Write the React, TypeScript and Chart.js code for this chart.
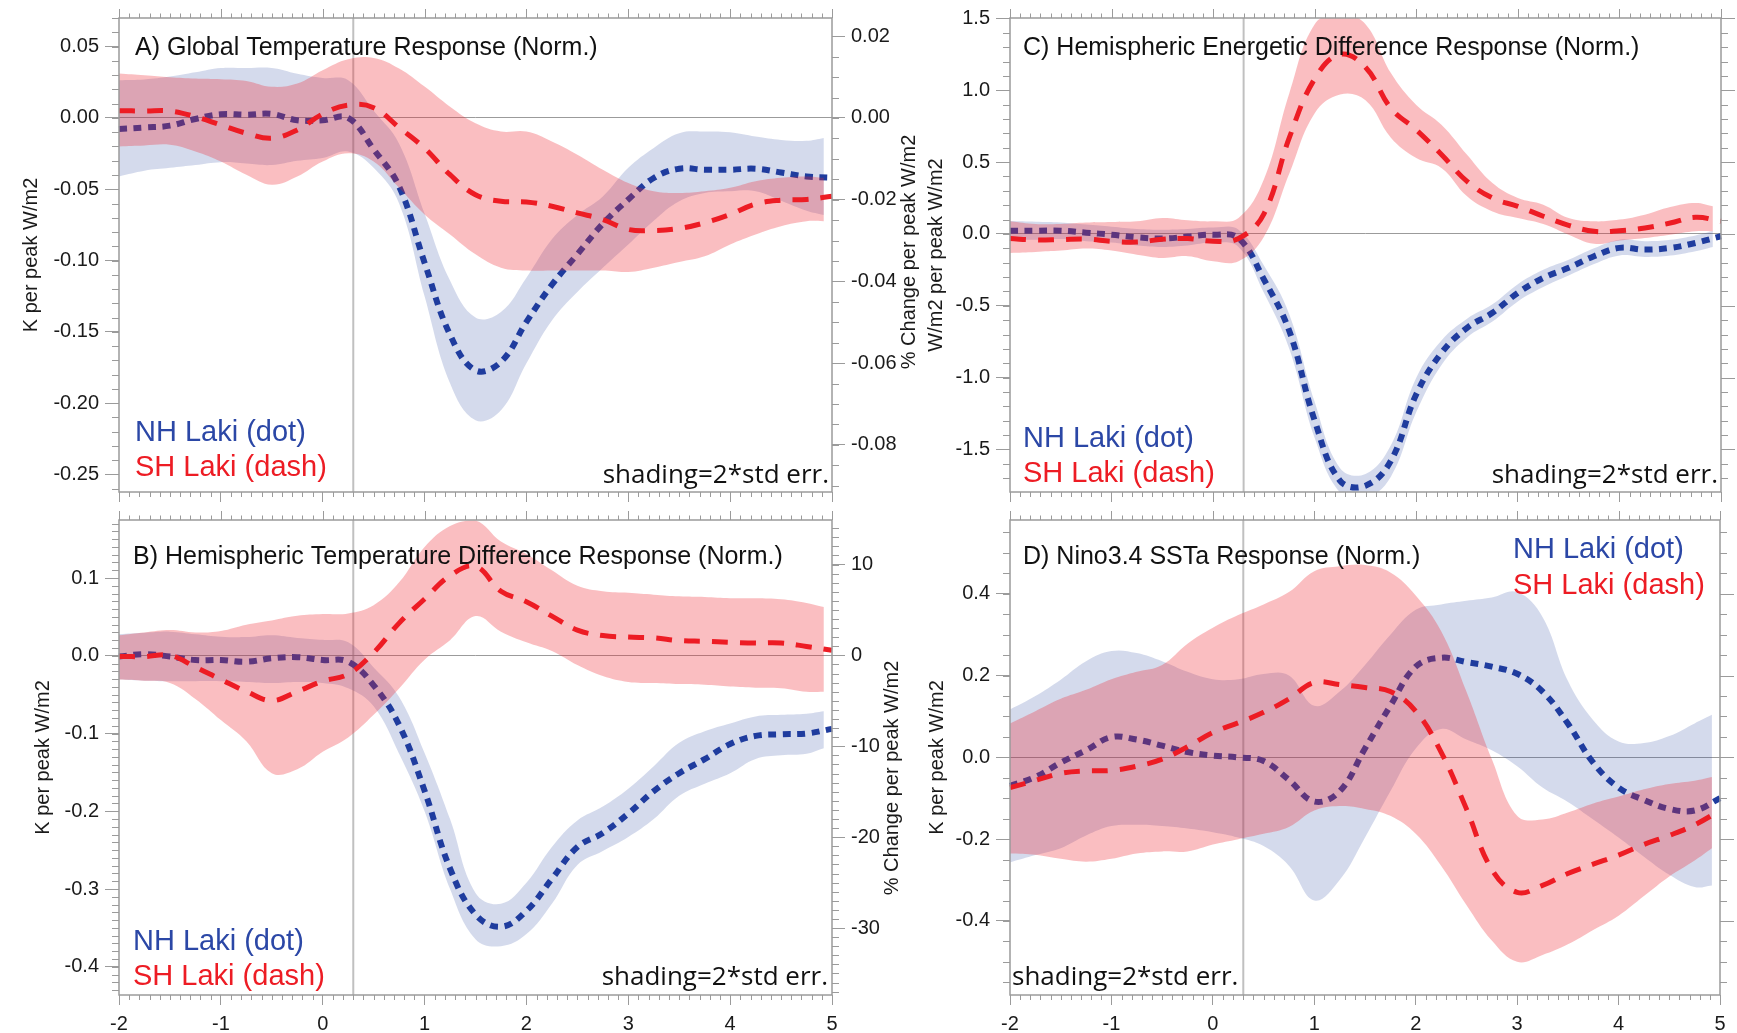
import React, { useEffect, useRef } from 'react';
import { Chart, registerables } from 'chart.js';

Chart.register(...registerables);

const PAGE_W = 1737;
const PAGE_H = 1033;

// ---- data (lag in years) ----
const X_LINE = [-2, -1.75, -1.5, -1.25, -1, -0.75, -0.5, -0.25, 0, 0.25, 0.5, 0.75, 1, 1.25, 1.5, 1.75, 2, 2.25, 2.5, 2.75, 3, 3.25, 3.5, 3.75, 4, 4.25, 4.5, 4.75, 5];
const X_BAND = [-2, -1.75, -1.5, -1.25, -1, -0.75, -0.5, -0.25, 0, 0.25, 0.5, 0.75, 1, 1.25, 1.5, 1.75, 2, 2.25, 2.5, 2.75, 3, 3.25, 3.5, 3.75, 4, 4.25, 4.5, 4.75, 4.92];
const ERUPTION_X = 0.3;

// A) Global temperature response
const A_NH = [-0.0077, -0.0067, -0.0054, -0.0007, 0.0026, 0.0023, 0.0028, -0.0016, -0.0016, 0.0, -0.022, -0.048, -0.1015, -0.152, -0.177, -0.171, -0.143, -0.117, -0.0956, -0.0742, -0.0572, -0.0421, -0.0356, -0.0363, -0.0363, -0.0356, -0.0382, -0.041, -0.042];
const A_NH_UP = [0.0265, 0.027, 0.029, 0.032, 0.035, 0.035, 0.035, 0.031, 0.028, 0.0265, 0.005, -0.018, -0.067, -0.114, -0.14, -0.136, -0.112, -0.085, -0.068, -0.055, -0.035, -0.021, -0.0107, -0.0095, -0.01, -0.013, -0.0154, -0.016, -0.014];
const A_NH_LO = [-0.041, -0.037, -0.035, -0.033, -0.031, -0.032, -0.033, -0.03, -0.028, -0.0235, -0.035, -0.06, -0.125, -0.186, -0.212, -0.205, -0.172, -0.142, -0.122, -0.105, -0.0887, -0.072, -0.0584, -0.0526, -0.0514, -0.0514, -0.058, -0.065, -0.068];
const A_SH = [0.0051, 0.0049, 0.0049, 0.0009, -0.0049, -0.0107, -0.0142, -0.0084, 0.0028, 0.009, 0.0072, -0.0067, -0.0212, -0.0398, -0.0538, -0.0584, -0.0589, -0.0619, -0.0666, -0.0712, -0.0782, -0.0789, -0.0775, -0.0735, -0.0677, -0.0603, -0.0577, -0.0572, -0.0549];
const A_SH_UP = [0.0312, 0.03, 0.0286, 0.0277, 0.0272, 0.026, 0.0219, 0.0242, 0.0335, 0.0412, 0.0421, 0.0347, 0.022, 0.0079, -0.0037, -0.0095, -0.0095, -0.0165, -0.0258, -0.0363, -0.0456, -0.0514, -0.0526, -0.0514, -0.049, -0.0444, -0.042, -0.041, -0.042];
const A_SH_LO = [-0.02, -0.0193, -0.0188, -0.0235, -0.0305, -0.0398, -0.0468, -0.041, -0.0305, -0.0247, -0.0305, -0.049, -0.0677, -0.0817, -0.0956, -0.105, -0.107, -0.107, -0.107, -0.107, -0.108, -0.105, -0.101, -0.097, -0.0887, -0.0817, -0.0759, -0.0724, -0.0724];

// B) Hemispheric temperature difference response
const B_NH = [-0.001, 0.002, -0.001, -0.0055, -0.0055, -0.0077, -0.0032, -0.0018, -0.0055, -0.0077, -0.038, -0.089, -0.1736, -0.2736, -0.3327, -0.3486, -0.328, -0.287, -0.246, -0.228, -0.203, -0.174, -0.151, -0.133, -0.1136, -0.103, -0.101, -0.1, -0.094];
const B_NH_UP = [0.0277, 0.0295, 0.031, 0.0277, 0.0245, 0.024, 0.0264, 0.023, 0.0205, 0.0173, -0.015, -0.053, -0.125, -0.21, -0.305, -0.319, -0.292, -0.246, -0.212, -0.194, -0.171, -0.142, -0.112, -0.097, -0.087, -0.078, -0.076, -0.0745, -0.0714];
const B_NH_LO = [-0.0305, -0.032, -0.0327, -0.0327, -0.0327, -0.0336, -0.035, -0.0336, -0.035, -0.0418, -0.065, -0.126, -0.2, -0.3, -0.3645, -0.3736, -0.358, -0.319, -0.269, -0.251, -0.233, -0.21, -0.18, -0.1645, -0.151, -0.1327, -0.128, -0.126, -0.119];
const B_SH = [-0.001, -0.001, 0.0005, -0.0145, -0.0305, -0.046, -0.0577, -0.046, -0.0327, -0.0236, 0.004, 0.042, 0.073, 0.103, 0.115, 0.083, 0.0695, 0.051, 0.033, 0.026, 0.024, 0.023, 0.0195, 0.0186, 0.0173, 0.0164, 0.0164, 0.012, 0.007];
const B_SH_UP = [0.0264, 0.03, 0.033, 0.03, 0.032, 0.04, 0.0455, 0.0514, 0.0536, 0.0545, 0.065, 0.0945, 0.14, 0.167, 0.174, 0.147, 0.131, 0.11, 0.09, 0.083, 0.081, 0.0786, 0.0764, 0.0755, 0.074, 0.074, 0.0727, 0.068, 0.0627];
const B_SH_LO = [-0.0305, -0.032, -0.035, -0.0555, -0.0827, -0.11, -0.151, -0.146, -0.1236, -0.105, -0.076, -0.042, -0.005, 0.02, 0.051, 0.031, 0.0173, 0.006, -0.012, -0.026, -0.0336, -0.035, -0.0364, -0.0373, -0.0395, -0.041, -0.0418, -0.0464, -0.0464];

// C) Hemispheric energetic difference response
const C_NH = [0.023, 0.023, 0.023, 0.009, -0.005, -0.023, -0.032, -0.0185, -0.005, -0.03, -0.317, -0.676, -1.3, -1.718, -1.752, -1.579, -1.116, -0.826, -0.653, -0.549, -0.41, -0.306, -0.236, -0.155, -0.097, -0.109, -0.097, -0.0625, -0.016];
const C_NH_UP = [0.09, 0.085, 0.08, 0.065, 0.05, 0.035, 0.03, 0.035, 0.045, 0.03, -0.22, -0.56, -1.17, -1.63, -1.67, -1.47, -1.0, -0.74, -0.59, -0.49, -0.35, -0.25, -0.18, -0.1, -0.04, -0.05, -0.04, -0.01, 0.02];
const C_NH_LO = [-0.04, -0.04, -0.035, -0.05, -0.06, -0.08, -0.09, -0.08, -0.06, -0.09, -0.41, -0.8, -1.42, -1.8, -1.84, -1.69, -1.24, -0.91, -0.72, -0.61, -0.47, -0.37, -0.29, -0.21, -0.15, -0.16, -0.15, -0.12, -0.09];
const C_SH = [-0.032, -0.042, -0.039, -0.035, -0.051, -0.056, -0.037, -0.032, -0.051, -0.032, 0.14, 0.67, 1.08, 1.25, 1.16, 0.875, 0.7245, 0.551, 0.366, 0.25, 0.192, 0.123, 0.06, 0.0185, 0.023, 0.0417, 0.076, 0.116, 0.088];
const C_SH_UP = [0.088, 0.069, 0.069, 0.079, 0.083, 0.088, 0.111, 0.095, 0.088, 0.111, 0.38, 0.98, 1.46, 1.53, 1.46, 1.12, 0.898, 0.759, 0.551, 0.354, 0.25, 0.204, 0.111, 0.088, 0.1, 0.134, 0.1875, 0.215, 0.192];
const C_SH_LO = [-0.132, -0.125, -0.116, -0.102, -0.116, -0.144, -0.167, -0.155, -0.19, -0.19, -0.02, 0.42, 0.84, 0.97, 0.93, 0.67, 0.528, 0.458, 0.262, 0.157, 0.111, 0.069, -0.005, -0.069, -0.046, -0.028, -0.005, 0.0185, 0.0185];

// D) Nino3.4 SSTa response
const D_NH = [-0.0696, -0.048, -0.013, 0.0174, 0.0496, 0.0435, 0.0287, 0.013, 0.0043, 0.0, -0.009, -0.055, -0.108, -0.083, 0.0217, 0.126, 0.2217, 0.2435, 0.233, 0.2217, 0.2043, 0.161, 0.0826, -0.013, -0.074, -0.104, -0.126, -0.13, -0.1];
const D_NH_UP = [0.117, 0.15, 0.19, 0.235, 0.26, 0.255, 0.235, 0.209, 0.191, 0.191, 0.204, 0.2, 0.126, 0.161, 0.226, 0.3, 0.361, 0.374, 0.383, 0.391, 0.404, 0.343, 0.187, 0.091, 0.039, 0.035, 0.052, 0.083, 0.104];
const D_NH_LO = [-0.257, -0.239, -0.222, -0.191, -0.168, -0.165, -0.168, -0.174, -0.183, -0.196, -0.217, -0.265, -0.35, -0.3, -0.196, -0.083, 0.0217, 0.0696, 0.0435, 0.0174, -0.0217, -0.074, -0.109, -0.152, -0.196, -0.243, -0.287, -0.317, -0.313];
const D_SH = [-0.074, -0.0565, -0.039, -0.033, -0.032, -0.0217, -0.0043, 0.026, 0.061, 0.0843, 0.11, 0.143, 0.183, 0.178, 0.171, 0.161, 0.113, 0.013, -0.126, -0.274, -0.33, -0.313, -0.284, -0.261, -0.239, -0.213, -0.191, -0.165, -0.13];
const D_SH_UP = [0.083, 0.113, 0.143, 0.165, 0.191, 0.209, 0.226, 0.278, 0.317, 0.348, 0.374, 0.404, 0.455, 0.467, 0.47, 0.452, 0.396, 0.309, 0.161, -0.004, -0.143, -0.152, -0.135, -0.113, -0.096, -0.078, -0.065, -0.057, -0.048];
const D_SH_LO = [-0.235, -0.238, -0.248, -0.255, -0.248, -0.235, -0.23, -0.23, -0.213, -0.2, -0.187, -0.17, -0.13, -0.119, -0.126, -0.143, -0.187, -0.265, -0.361, -0.448, -0.5, -0.483, -0.457, -0.422, -0.387, -0.339, -0.291, -0.252, -0.222];

const LEGEND_NH = 'NH Laki (dot)';
const LEGEND_SH = 'SH Laki (dash)';
const SHADING_NOTE = 'shading=2*std err.';

// ---- styles ----
const BLUE_LINE = '#1f3c9e';
const RED_LINE = '#ed1c24';
const BLUE_FILL = 'rgba(40, 70, 160, 0.2)';
const RED_FILL = 'rgba(240, 40, 50, 0.3)';
const BLUE_TEXT = '#2b47a6';
const RED_TEXT = '#ed1c24';
const AXIS_GRAY = '#9b9b9b';
const TEXT_COLOR = '#1a1a1a';
const SANS = '"Liberation Sans", Arial, Helvetica, sans-serif';
const TICK_FONT = { family: SANS, size: 20 };

const fmt = (v: number, d: number) => (Math.abs(v) < 1e-9 ? 0 : v).toFixed(d);

const PANELS: any[] = [
  {
    key: 'A',
    title: 'A) Global Temperature Response (Norm.)',
    nh: A_NH, nhUp: A_NH_UP, nhLo: A_NH_LO, sh: A_SH, shUp: A_SH_UP, shLo: A_SH_LO,
    area: { left: 119, top: 16, right: 832, bottom: 492 },
    y: { min: -0.2623, max: 0.0701, step: 0.05, minor: 0.01, dec: 2, title: 'K per peak W/m2', width: 100 },
    y2: { min: -0.09155, max: 0.02447, step: 0.02, minor: 0.005, dec: 2, title: '% Change per peak W/m2', titleX: 909, titleY: 252 },
    xLabels: false,
    titlePos: [135, 55],
    legend: { x: 135, nhY: 441, shY: 476 },
    shading: { x: 829, y: 483, align: 'right' },
  },
  {
    key: 'B',
    title: 'B) Hemispheric Temperature Difference Response (Norm.)',
    nh: B_NH, nhUp: B_NH_UP, nhLo: B_NH_LO, sh: B_SH, shUp: B_SH_UP, shLo: B_SH_LO,
    area: { left: 119, top: 520, right: 832, bottom: 995 },
    y: { min: -0.4363, max: 0.1746, step: 0.1, minor: 0.01, dec: 1, title: 'K per peak W/m2', width: 88 },
    y2: { min: -37.37, max: 14.9, step: 10, minor: 1, dec: 0, title: '% Change per peak W/m2', titleX: 892, titleY: 778 },
    xLabels: true,
    titlePos: [133, 564],
    legend: { x: 133, nhY: 950, shY: 985 },
    shading: { x: 828, y: 985, align: 'right' },
  },
  {
    key: 'C',
    title: 'C) Hemispheric Energetic Difference Response (Norm.)',
    nh: C_NH, nhUp: C_NH_UP, nhLo: C_NH_LO, sh: C_SH, shUp: C_SH_UP, shLo: C_SH_LO,
    area: { left: 1010, top: 16, right: 1721, bottom: 492 },
    y: { min: -1.796, max: 1.503, step: 0.5, minor: 0.1, dec: 1, title: 'W/m2 per peak W/m2', width: 86 },
    y2: null,
    xLabels: false,
    titlePos: [1023, 55],
    legend: { x: 1023, nhY: 447, shY: 482 },
    shading: { x: 1718, y: 483, align: 'right' },
  },
  {
    key: 'D',
    title: 'D) Nino3.4 SSTa Response (Norm.)',
    nh: D_NH, nhUp: D_NH_UP, nhLo: D_NH_LO, sh: D_SH, shUp: D_SH_UP, shLo: D_SH_LO,
    area: { left: 1010, top: 520, right: 1720, bottom: 995 },
    y: { min: -0.581, max: 0.5803, step: 0.2, minor: 0.05, dec: 1, title: 'K per peak W/m2', width: 85 },
    y2: null,
    xLabels: true,
    titlePos: [1023, 564],
    legend: { x: 1513, nhY: 558, shY: 594 },
    shading: { x: 1012, y: 985, align: 'left' },
  },
];

const pts = (xs: number[], ys: number[]) => ys.map((y, i) => ({ x: xs[i], y }));

function makeDatasets(p: any) {
  const band = { pointRadius: 0, borderWidth: 0, borderColor: 'rgba(0,0,0,0)', tension: 0.4, clip: false };
  return [
    { ...band, data: pts(X_BAND, p.nhLo), fill: false, order: 4 },
    { ...band, data: pts(X_BAND, p.nhUp), fill: '-1', backgroundColor: BLUE_FILL, order: 4 },
    { data: pts(X_LINE, p.nh), borderColor: BLUE_LINE, borderWidth: 6, borderDash: [8, 6.5], borderCapStyle: 'butt', pointRadius: 0, fill: false, tension: 0.4, order: 3, clip: false },
    { ...band, data: pts(X_BAND, p.shLo), fill: false, order: 2 },
    { ...band, data: pts(X_BAND, p.shUp), fill: '-1', backgroundColor: RED_FILL, order: 2 },
    { data: pts(X_LINE, p.sh), borderColor: RED_LINE, borderWidth: 5, borderDash: [16, 12], borderCapStyle: 'butt', pointRadius: 0, fill: false, tension: 0.4, order: 1, clip: false },
  ];
}

function tickRange(min: number, max: number, step: number) {
  const out: number[] = [];
  const k0 = Math.ceil(min / step - 1e-9);
  const k1 = Math.floor(max / step + 1e-9);
  for (let k = k0; k <= k1; k++) out.push(k * step);
  return out;
}

function makeDecor(p: any) {
  return {
    id: 'decor' + p.key,
    beforeDatasetsDraw(chart: any) {
      const { ctx, chartArea: a, scales } = chart;
      const xp = scales.x.getPixelForValue(ERUPTION_X);
      ctx.save();
      ctx.strokeStyle = 'rgba(150,150,150,0.6)';
      ctx.lineWidth = 2;
      ctx.beginPath();
      ctx.moveTo(xp, a.top);
      ctx.lineTo(xp, a.bottom);
      ctx.stroke();
      ctx.restore();
    },
    afterDraw(chart: any) {
      const { ctx, chartArea: a, scales } = chart;
      ctx.save();
      ctx.strokeStyle = AXIS_GRAY;
      ctx.lineWidth = 1;
      const xs = scales.x;
      // x minor ticks (bottom) and top ticks
      for (let k = -20; k <= 50; k++) {
        const px = Math.round(xs.getPixelForValue(k / 10)) + 0.5;
        const major = k % 10 === 0;
        ctx.beginPath();
        if (!major) {
          ctx.moveTo(px, a.bottom);
          ctx.lineTo(px, a.bottom + 5);
        }
        ctx.moveTo(px, a.top);
        ctx.lineTo(px, a.top - (major ? 9 : 4.5));
        ctx.stroke();
      }
      // left minor ticks
      const ys = scales.y;
      tickRange(p.y.min, p.y.max, p.y.minor).forEach((v) => {
        const py = Math.round(ys.getPixelForValue(v)) + 0.5;
        ctx.beginPath();
        ctx.moveTo(a.left - 7, py);
        ctx.lineTo(a.left, py);
        ctx.stroke();
      });
      // right side ticks
      if (p.y2) {
        const y2 = scales.y2;
        tickRange(p.y2.min, p.y2.max, p.y2.minor).forEach((v) => {
          const py = Math.round(y2.getPixelForValue(v)) + 0.5;
          ctx.beginPath();
          ctx.moveTo(a.right, py);
          ctx.lineTo(a.right + 7, py);
          ctx.stroke();
        });
      } else {
        tickRange(p.y.min, p.y.max, p.y.minor).forEach((v) => {
          const py = Math.round(ys.getPixelForValue(v)) + 0.5;
          ctx.beginPath();
          ctx.moveTo(a.right, py);
          ctx.lineTo(a.right + 7, py);
          ctx.stroke();
        });
        tickRange(p.y.min, p.y.max, p.y.step).forEach((v) => {
          const py = Math.round(ys.getPixelForValue(v)) + 0.5;
          ctx.beginPath();
          ctx.moveTo(a.right, py);
          ctx.lineTo(a.right + 14, py);
          ctx.stroke();
        });
      }
      // frame
      ctx.lineWidth = 1.5;
      ctx.strokeRect(a.left, a.top, a.right - a.left, a.bottom - a.top);

      // panel title
      ctx.textBaseline = 'alphabetic';
      ctx.textAlign = 'left';
      ctx.fillStyle = '#111';
      ctx.font = `25px ${SANS}`;
      ctx.fillText(p.title, p.titlePos[0], p.titlePos[1]);
      // legend
      ctx.font = `29px ${SANS}`;
      ctx.fillStyle = BLUE_TEXT;
      ctx.fillText(LEGEND_NH, p.legend.x, p.legend.nhY);
      ctx.fillStyle = RED_TEXT;
      ctx.fillText(LEGEND_SH, p.legend.x, p.legend.shY);
      // shading note
      ctx.font = `26px "Open Sans", ${SANS}`;
      ctx.fillStyle = '#111';
      ctx.textAlign = p.shading.align;
      ctx.fillText(SHADING_NOTE, p.shading.x, p.shading.y);
      // right axis title
      if (p.y2) {
        ctx.save();
        ctx.translate(p.y2.titleX, p.y2.titleY);
        ctx.rotate(-Math.PI / 2);
        ctx.font = `20px ${SANS}`;
        ctx.fillStyle = TEXT_COLOR;
        ctx.textAlign = 'center';
        ctx.textBaseline = 'middle';
        ctx.fillText(p.y2.title, 0, 0);
        ctx.restore();
      }
      ctx.restore();
    },
  };
}

function makeOptions(p: any) {
  const a = p.area;
  const xHeight = p.xLabels ? PAGE_H - a.bottom : 20;
  const y2W = 80;
  const padding = {
    left: a.left - p.y.width,
    top: a.top,
    right: PAGE_W - a.right - (p.y2 ? y2W : 0),
    bottom: PAGE_H - a.bottom - xHeight,
  };
  const scales: any = {
    x: {
      type: 'linear',
      position: 'bottom',
      min: -2,
      max: 5,
      afterFit: (s: any) => { s.height = xHeight; },
      border: { display: false },
      grid: { display: true, drawOnChartArea: false, drawTicks: true, tickLength: 10, tickColor: AXIS_GRAY, tickWidth: 1, color: AXIS_GRAY },
      ticks: {
        display: p.xLabels, stepSize: 1, autoSkip: false, maxRotation: 0, minRotation: 0, includeBounds: false,
        padding: 7, font: TICK_FONT, color: TEXT_COLOR, callback: (v: number) => String(v),
      },
    },
    y: {
      type: 'linear',
      position: 'left',
      min: p.y.min,
      max: p.y.max,
      afterFit: (s: any) => { s.width = p.y.width; },
      border: { display: false },
      grid: {
        display: true, drawOnChartArea: true, drawTicks: true, tickLength: 14, tickWidth: 1, tickColor: AXIS_GRAY,
        lineWidth: 1,
        color: (c: any) => (c.tick && Math.abs(c.tick.value) < 1e-9 ? 'rgba(130,130,130,0.8)' : 'rgba(0,0,0,0)'),
      },
      ticks: {
        stepSize: p.y.step, autoSkip: false, includeBounds: false, padding: 6, font: TICK_FONT, color: TEXT_COLOR,
        callback: (v: number) => fmt(v, p.y.dec),
      },
      title: { display: true, text: p.y.title, font: { family: SANS, size: 20 }, color: TEXT_COLOR, padding: { top: 0, bottom: 0 } },
    },
  };
  if (p.y2) {
    scales.y2 = {
      type: 'linear',
      position: 'right',
      min: p.y2.min,
      max: p.y2.max,
      afterFit: (s: any) => { s.width = y2W; },
      border: { display: false },
      grid: { display: true, drawOnChartArea: false, drawTicks: true, tickLength: 13, tickWidth: 1, tickColor: AXIS_GRAY, color: AXIS_GRAY },
      ticks: {
        stepSize: p.y2.step, autoSkip: false, includeBounds: false, padding: 6, font: TICK_FONT, color: TEXT_COLOR,
        callback: (v: number) => fmt(v, p.y2.dec),
      },
    };
  }
  return {
    responsive: false,
    maintainAspectRatio: false,
    animation: false,
    devicePixelRatio: 1,
    events: [],
    layout: { padding },
    plugins: { legend: { display: false }, tooltip: { enabled: false }, title: { display: false } },
    scales,
  };
}

function Panel({ p }: { p: any }) {
  const ref = useRef<HTMLCanvasElement>(null);
  useEffect(() => {
    if (!ref.current) return;
    const chart = new Chart(ref.current, {
      type: 'line',
      data: { datasets: makeDatasets(p) as any },
      options: makeOptions(p) as any,
      plugins: [makeDecor(p) as any],
    });
    return () => chart.destroy();
  }, [p]);
  return (
    <canvas
      ref={ref}
      width={PAGE_W}
      height={PAGE_H}
      style={{ position: 'absolute', left: 0, top: 0, width: PAGE_W, height: PAGE_H }}
    />
  );
}

export default function App() {
  return (
    <div style={{ position: 'absolute', left: 0, top: 0, width: PAGE_W, height: PAGE_H, background: '#ffffff', overflow: 'hidden' }}>
      {PANELS.map((p) => (
        <Panel key={p.key} p={p} />
      ))}
    </div>
  );
}
